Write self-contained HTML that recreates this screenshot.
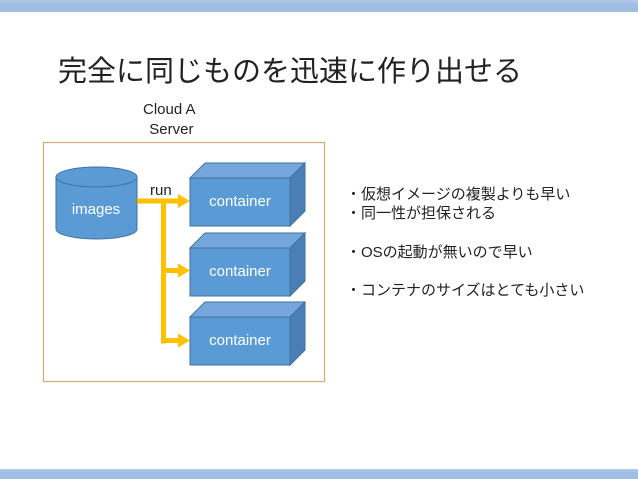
<!DOCTYPE html>
<html><head><meta charset="utf-8"><style>
body{margin:0;width:638px;height:479px;overflow:hidden;background:#fff;position:relative;font-family:"Liberation Sans","Noto Sans CJK JP",sans-serif}
.bar{position:absolute;left:0;width:638px;background:linear-gradient(#b4c8e4,#9dbde5 40%,#a3bfe0)}
.t{position:absolute;white-space:nowrap}
.b{position:absolute;left:346px;font-size:15px;color:#222;white-space:nowrap;line-height:20px}
</style></head><body>
<div class="bar" style="top:0;height:12px"></div>
<div class="bar" style="top:469px;height:10px"></div>
<div class="t" style="left:58px;top:48px;font-size:29px;color:#222">完全に同じものを迅速に作り出せる</div>
<div class="t" style="left:143px;top:100px;font-size:15px;color:#222;text-align:center;line-height:20px">Cloud A<br>&nbsp;Server</div>
<svg width="638" height="479" style="position:absolute;left:0;top:0">
<rect x="43.5" y="142.5" width="281" height="239" fill="none" stroke="#d9a878" stroke-width="1.2"/>
<path d="M56 177 V229 A40.5 10 0 0 0 137 229 V177" fill="#5b9bd5" stroke="#41719c"/>
<ellipse cx="96.5" cy="177" rx="40.5" ry="10" fill="#5b9bd5" stroke="#41719c"/>
<text x="96" y="214" font-size="15" fill="#fff" text-anchor="middle" font-family="Liberation Sans,sans-serif">images</text>
<g fill="#ffc000" stroke="none">
<rect x="137" y="198.5" width="42" height="5"/>
<rect x="161" y="198.5" width="5" height="145"/>
<rect x="161" y="268" width="18" height="5"/>
<rect x="161" y="338" width="18" height="5"/>
<polygon points="178,194 190,201 178,208"/>
<polygon points="178,263.5 190,270.5 178,277.5"/>
<polygon points="178,333.5 190,340.5 178,347.5"/>
</g>
<text x="150" y="195" font-size="15" fill="#222" font-family="Liberation Sans,sans-serif">run</text>
<g stroke="#41719c" stroke-width="1">
<polygon points="190,178 205,163 305,163 290,178" fill="#76a7dc"/>
<polygon points="290,178 305,163 305,211 290,226" fill="#4a7fb5"/>
<rect x="190" y="178" width="100" height="48" fill="#5b9bd5"/>
<polygon points="190,248 205,233 305,233 290,248" fill="#76a7dc"/>
<polygon points="290,248 305,233 305,281 290,296" fill="#4a7fb5"/>
<rect x="190" y="248" width="100" height="48" fill="#5b9bd5"/>
<polygon points="190,317 205,302 305,302 290,317" fill="#76a7dc"/>
<polygon points="290,317 305,302 305,350 290,365" fill="#4a7fb5"/>
<rect x="190" y="317" width="100" height="48" fill="#5b9bd5"/>
</g>
<g font-size="15" fill="#fff" text-anchor="middle" font-family="Liberation Sans,sans-serif">
<text x="240" y="206">container</text>
<text x="240" y="276">container</text>
<text x="240" y="345">container</text>
</g>
</svg>
<div class="b" style="top:185px">・仮想イメージの複製よりも早い</div>
<div class="b" style="top:204px">・同一性が担保される</div>
<div class="b" style="top:243px">・OSの起動が無いので早い</div>
<div class="b" style="top:281px">・コンテナのサイズはとても小さい</div>
</body></html>
